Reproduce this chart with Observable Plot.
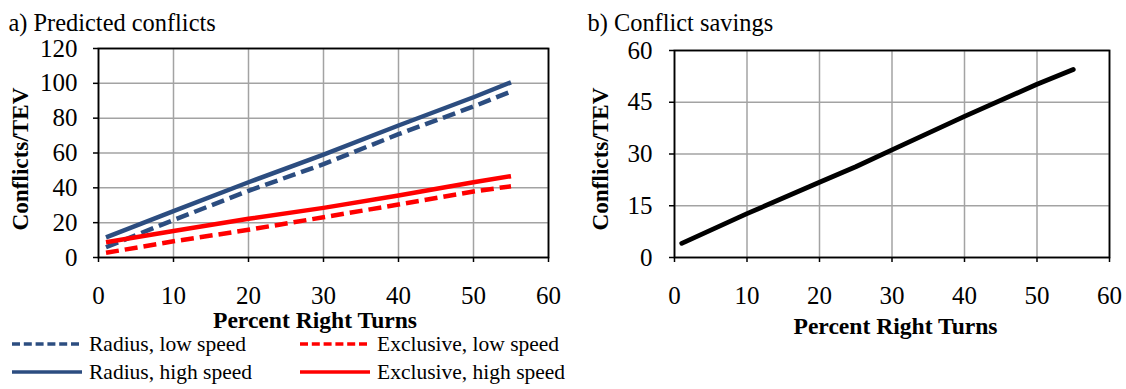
<!DOCTYPE html>
<html>
<head>
<meta charset="utf-8">
<script src="https://cdn.jsdelivr.net/npm/d3@7"></script>
<script src="https://cdn.jsdelivr.net/npm/@observablehq/plot@0.6"></script>
<style>
  html, body { margin: 0; padding: 0; background: #fff; }
  #wrap { position: relative; width: 1126px; height: 389px; overflow: hidden; font-family: "Liberation Serif", "Times New Roman", serif; }
  #wrap > svg { position: absolute; top: 0; overflow: visible; }
  #legend { position: absolute; left: 0; top: 331px; font-size: 21.5px; color: #000; }
  .row { position: absolute; white-space: nowrap; display: flex; align-items: center; height: 26px; }
  .row svg { display: block; margin-right: 7px; }
</style>
</head>
<body>
<div id="wrap"><div id="legend"></div></div>
<script>
// Percent right turns at which the models were evaluated
const pct = [1, 10, 20, 30, 40, 50, 55];
// Predicted conflicts per TEV
const radiusLow = [5.9, 21.5, 38.3, 53.6, 70.8, 86.7, 95.3];
const radiusHigh = [11.5, 26.6, 43.2, 59.1, 75.8, 92, 100.6];
const exclusiveLow = [2.7, 9.3, 15.9, 23.1, 30.4, 37.9, 40.9];
const exclusiveHigh = [8.8, 15.2, 22.2, 28.5, 35.6, 43.2, 46.7];
// Conflict savings per TEV
const pctSavings = [1, 10, 20, 25, 30, 40, 50, 55];
const savings = [4.1, 12.7, 21.8, 26.3, 31.2, 40.9, 50.2, 54.5];

const xTicks = [0, 10, 20, 30, 40, 50, 60];
const yTicksA = [0, 20, 40, 60, 80, 100, 120];
const yTicksB = [0, 15, 30, 45, 60];

const BLUE = "#2c4d80";
const RED = "#ff0000";
const GRID = "#a3a3a3";

const seriesA = [
  {name: "Radius, low speed", values: radiusLow, color: BLUE, dash: true},
  {name: "Exclusive, low speed", values: exclusiveLow, color: RED, dash: true},
  {name: "Radius, high speed", values: radiusHigh, color: BLUE, dash: false},
  {name: "Exclusive, high speed", values: exclusiveHigh, color: RED, dash: false}
];

const font = {fontFamily: "Liberation Serif, Times New Roman, serif", fontSize: "25px", color: "#000", background: "transparent", overflow: "visible"};

// Grid, axes and frame drawn beneath the data
function underMarks(yTicks, tickPadY) {
  return [
    Plot.gridX(xTicks, {stroke: GRID, strokeOpacity: 1, strokeWidth: 1.5}),
    Plot.gridY(yTicks, {stroke: GRID, strokeOpacity: 1, strokeWidth: 1.5}),
    Plot.axisX(xTicks, {tickSize: 5, tickPadding: 24, fontSize: 25, label: null, stroke: "#000", strokeWidth: 1.5}),
    Plot.axisY(yTicks, {tickSize: 5, tickPadding: tickPadY, fontSize: 25, label: null, stroke: "#000", strokeWidth: 1.5}),
    Plot.frame({stroke: "#000", strokeWidth: 1.8})
  ];
}

// Panel title and axis titles
function titleMarks(title, t) {
  return [
    Plot.text([title], {frameAnchor: "top-left", textAnchor: "start", lineAnchor: "middle", dx: t.titleDx, dy: t.titleDy, fontSize: 24.4}),
    Plot.text(["Percent Right Turns"], {frameAnchor: "bottom", lineAnchor: "middle", dx: t.xDx, dy: t.xDy, fontWeight: "bold", fontSize: 23.6}),
    Plot.text(["Conflicts/TEV"], {frameAnchor: "left", textAnchor: "middle", lineAnchor: "middle", dx: t.yDx, dy: t.yDy, rotate: -90, fontWeight: "bold", fontSize: 23.2})
  ];
}

// a) Predicted conflicts
const rowsA = seriesA.flatMap(s => pct.map((p, i) => ({x: p, y: s.values[i], name: s.name})));
const chartA = Plot.plot({
  width: 560, height: 389,
  marginLeft: 98, marginRight: 12, marginTop: 48, marginBottom: 132,
  x: {domain: [0, 60], axis: null},
  y: {domain: [0, 120], axis: null},
  style: font,
  marks: [
    ...underMarks(yTicksA, 16),
    ...seriesA.map(s => Plot.line(rowsA.filter(d => d.name === s.name), {
      x: "x", y: "y", stroke: s.color, strokeWidth: 4.5,
      strokeDasharray: s.dash ? "13,6" : null, strokeLinecap: "butt"
    })),
    ...titleMarks("a) Predicted conflicts", {titleDx: -90, titleDy: -25, xDx: -8.5, xDy: 63, yDx: -78, yDy: 6})
  ]
});
chartA.style.left = "0px";
document.getElementById("wrap").appendChild(chartA);

// b) Conflict savings
const rowsB = pctSavings.map((p, i) => ({x: p, y: savings[i]}));
const chartB = Plot.plot({
  width: 566, height: 389,
  marginLeft: 114, marginRight: 17, marginTop: 50, marginBottom: 132,
  x: {domain: [0, 60], axis: null},
  y: {domain: [0, 60], axis: null},
  style: font,
  marks: [
    ...underMarks(yTicksB, 17),
    Plot.line(rowsB, {x: "x", y: "y", stroke: "#000", strokeWidth: 4.8, strokeLinecap: "round"}),
    ...titleMarks("b) Conflict savings", {titleDx: -87, titleDy: -27, xDx: 3.5, xDy: 69, yDx: -74, yDy: 5})
  ]
});
chartB.style.left = "560px";
document.getElementById("wrap").appendChild(chartB);

// Legend for panel a)
const legend = document.getElementById("legend");
const legendPos = [
  {left: 12, top: 0}, {left: 300, top: 0},
  {left: 12, top: 28}, {left: 300, top: 28}
];
seriesA.forEach((s, i) => {
  const row = document.createElement("div");
  row.className = "row";
  row.style.left = legendPos[i].left + "px";
  row.style.top = legendPos[i].top + "px";
  const sw = d3.create("svg").attr("width", 70).attr("height", 10);
  sw.append("line").attr("x1", 0).attr("x2", 70).attr("y1", 5).attr("y2", 5)
    .attr("stroke", s.color).attr("stroke-width", 3.5)
    .attr("stroke-dasharray", s.dash ? "8,3.8" : null);
  row.appendChild(sw.node());
  const label = document.createElement("span");
  label.textContent = s.name;
  row.appendChild(label);
  legend.appendChild(row);
});
</script>
</body>
</html>
